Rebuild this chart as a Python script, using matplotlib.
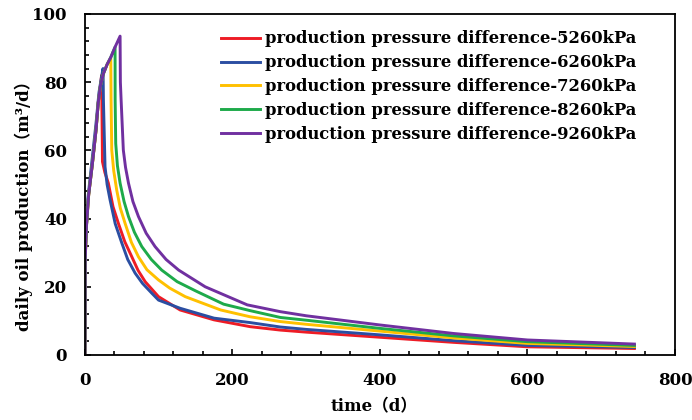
import matplotlib
matplotlib.use('Agg')
import matplotlib.pyplot as plt
from matplotlib.ticker import MultipleLocator

plt.rcParams['font.family'] = ['DejaVu Serif', 'Noto Sans CJK SC']
plt.rcParams['font.weight'] = 'bold'

# Daily oil production, one series per pressure difference
labels = ['production pressure difference-5260kPa',
          'production pressure difference-6260kPa',
          'production pressure difference-7260kPa',
          'production pressure difference-8260kPa',
          'production pressure difference-9260kPa']
colors = ['#EE1C25', '#2B4EA2', '#FFC000', '#1EAA4A', '#7030A0']

t_5260 = [0, 0.3, 2, 5, 10, 15, 18, 21, 22.5, 23.5, 23.7, 27, 31.7, 38, 45.3, 54, 63.5, 72, 81.6, 99.7, 129, 175, 224, 265, 300, 400, 500, 600, 745]
q_5260 = [0, 28, 38, 47, 56, 66, 74, 79, 82, 62, 56.7, 53.5, 50.4, 43.5, 38.6, 33.2, 28.8, 24.8, 21.5, 17.1, 13.2, 10.3, 8.3, 7.3, 6.7, 5.2, 3.7, 2.4, 1.9]

t_6260 = [0, 0.3, 4, 10, 15, 19, 22, 24.5, 25, 27.2, 30, 34, 41, 50, 58, 68, 78, 90.7, 99.7, 129, 175, 224, 265, 300, 400, 500, 600, 745]
q_6260 = [0, 30, 46, 58, 68, 77, 81, 84, 74.8, 55.2, 50, 45.5, 38.5, 32.8, 28, 24, 21, 18.1, 16.1, 13.7, 10.8, 9.5, 8.2, 7.5, 5.9, 4.2, 2.8, 2.2]

t_7260 = [0, 0.3, 2, 5, 10, 15, 18, 21, 25, 30, 35, 35.4, 36.3, 39, 43, 48, 54.4, 63, 72.5, 84, 99.7, 115, 136, 184, 224, 265, 300, 400, 500, 600, 745]
q_7260 = [0, 28, 38, 47, 56, 66, 74, 79, 82.5, 85.2, 87, 74.8, 60.1, 54, 48.4, 43, 38.6, 33, 28.8, 25, 22, 19.6, 17.1, 13.2, 11.2, 9.8, 9.0, 7.0, 5.0, 3.4, 2.5]

t_8260 = [0, 0.3, 2, 5, 10, 15, 18, 21, 25, 30, 35, 40.8, 40.9, 41.7, 44, 47.6, 53, 59, 67, 77, 90, 104, 125, 150, 188, 224, 265, 300, 400, 500, 600, 745]
q_8260 = [0, 28, 38, 47, 56, 66, 74, 79, 82.5, 85.2, 87.3, 90.3, 74.8, 62, 55.5, 50.4, 45, 40.6, 36, 31.8, 28, 24.9, 21.5, 18.8, 14.9, 13.0, 11.0, 10.2, 7.8, 5.6, 3.9, 2.8]

t_9260 = [0, 0.3, 2, 5, 10, 15, 18, 21, 25, 30, 35, 40.8, 47.6, 48, 49, 52, 55, 59, 65, 72.5, 83, 95, 110, 127, 163, 220, 265, 300, 400, 500, 600, 745]
q_9260 = [0, 28, 38, 47, 56, 66, 74, 79, 82.5, 85.2, 87.3, 90.3, 93.5, 80, 74.8, 60.1, 55, 50.4, 45, 40.6, 35.7, 31.8, 28, 24.9, 20, 14.7, 12.7, 11.5, 8.8, 6.3, 4.4, 3.2]

times = [t_5260, t_6260, t_7260, t_8260, t_9260]
rates = [q_5260, q_6260, q_7260, q_8260, q_9260]

fig = plt.figure(figsize = (6.92, 4.2), dpi = 100)
ax = fig.add_axes([0.1228, 0.1548, 0.8526, 0.8119])

for t, q, c, lab in zip(times, rates, colors, labels):
    ax.plot(t, q, color = c, linewidth = 2.1, label = lab, solid_joinstyle = 'round')

ax.set_xlim(0, 800)
ax.set_ylim(0, 100)
ax.xaxis.set_major_locator(MultipleLocator(200))
ax.xaxis.set_minor_locator(MultipleLocator(40))
ax.yaxis.set_major_locator(MultipleLocator(20))
ax.yaxis.set_minor_locator(MultipleLocator(4))
ax.tick_params(which = 'both', direction = 'in', top = False, right = False, labelsize = 12, width = 1.2)
ax.tick_params(which = 'major', length = 4.5)
ax.tick_params(which = 'minor', length = 3)
ax.tick_params(axis = 'x', which = 'major', pad = 12)
ax.tick_params(axis = 'y', which = 'major', pad = 13)
for s in ax.spines.values():
    s.set_linewidth(1.3)

ax.set_xlabel('time（d）', fontsize = 12, fontweight = 'bold')
ax.xaxis.set_label_coords(0.49, -0.128)
ax.set_ylabel('daily oil production（m³/d）', fontsize = 12, fontweight = 'bold')
ax.yaxis.set_label_coords(-0.088, 0.45)

ax.legend(loc = 'upper left', bbox_to_anchor = (0.2305, 0.952), frameon = False, fontsize = 11.8,
          handlelength = 2.4, handletextpad = 0.3, labelspacing = 0.42, borderpad = 0, borderaxespad = 0)

fig.savefig('out.png', dpi = 100)
